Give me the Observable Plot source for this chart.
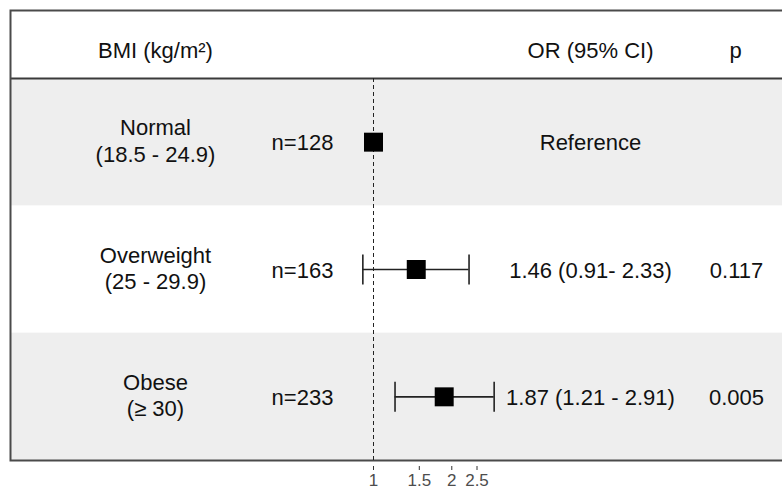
<!DOCTYPE html>
<html>
<head>
<meta charset="utf-8">
<script src="https://cdn.jsdelivr.net/npm/d3@7"></script>
<script src="https://cdn.jsdelivr.net/npm/@observablehq/plot@0.6"></script>
<style>
  html, body { margin: 0; padding: 0; background: #fff; }
  #chart { width: 782px; height: 490px; }
</style>
</head>
<body>
<div id="chart"></div>
<script>
// ---- data ----
const groupLabels = ["Normal\n(18.5 - 24.9)", "Overweight\n(25 - 29.9)", "Obese\n(≥ 30)"];
const nLabels = ["n=128", "n=163", "n=233"];
const orValues = [1, 1.46, 1.87];
const ciLow = [null, 0.91, 1.21];
const ciHigh = [null, 2.33, 2.91];
const orLabels = ["Reference", "1.46 (0.91- 2.33)", "1.87 (1.21 - 2.91)"];
const pLabels = ["", "0.117", "0.005"];
const headerLabels = ["BMI (kg/m²)", "OR (95% CI)", "p"];
const tickValues = [1, 1.5, 2, 2.5];

const data = groupLabels.map((label, i) => ({
  row: i + 1,
  label,
  n: nLabels[i],
  or: orValues[i],
  lo: ciLow[i],
  hi: ciHigh[i],
  orText: orLabels[i],
  p: pLabels[i]
}));
const ciData = data.filter(d => d.lo != null);
const shaded = data.filter(d => d.row % 2 === 1);
const nRows = data.length;

const capSymbol = {
  draw(context, size) {
    const h = Math.sqrt(size / Math.PI);
    context.moveTo(0, -h);
    context.lineTo(0, h);
  }
};

const textCommon = {textAnchor: "middle", fill: "#111", fontSize: 22};

const chart = Plot.plot({
  width: 782,
  height: 490,
  marginTop: 10,
  marginBottom: 30,
  marginLeft: 10,
  marginRight: 0,
  style: {fontFamily: "'Liberation Sans', Arial, Helvetica, sans-serif", background: "#fff"},
  x: {type: "log", domain: [1, 2.5], range: [373, 476.5]},
  y: {domain: [0.5, nRows + 0.5], range: [78, 460], axis: null},
  marks: [
    // shaded bands
    Plot.rect(shaded, {y1: d => d.row - 0.5, y2: d => d.row + 0.5, fill: "#EEEEEE", insetRight: -5}),
    // header separator
    Plot.ruleY([0.5], {stroke: "#3a3a3a", strokeWidth: 2, insetRight: -5}),
    // outer frame
    Plot.frame({stroke: "#4a4a4a", strokeWidth: 2, insetRight: -5}),
    // reference line
    Plot.ruleX([1], {y1: 0.5, y2: nRows + 0.5, stroke: "#222", strokeWidth: 1, strokeDasharray: "4,3"}),
    // confidence intervals
    Plot.ruleY(ciData, {y: "row", x1: "lo", x2: "hi", stroke: "#222", strokeWidth: 1.6}),
    Plot.dot(ciData, {x: "lo", y: "row", symbol: capSymbol, r: 15, stroke: "#222", strokeWidth: 1.6, fill: "none"}),
    Plot.dot(ciData, {x: "hi", y: "row", symbol: capSymbol, r: 15, stroke: "#222", strokeWidth: 1.6, fill: "none"}),
    // point estimates
    Plot.dot(data, {x: "or", y: "row", symbol: "square", r: 10.7, fill: "#000", stroke: "none"}),
    // header texts
    Plot.text([headerLabels[0]], {text: d => d, frameAnchor: "top-left", dx: 145, dy: 32, ...textCommon}),
    Plot.text([headerLabels[1]], {text: d => d, frameAnchor: "top-left", dx: 580, dy: 32, ...textCommon}),
    Plot.text([headerLabels[2]], {text: d => d, frameAnchor: "top-left", dx: 725, dy: 32, ...textCommon}),
    // row texts
    Plot.text(data, {y: "row", text: "label", frameAnchor: "left", dx: 145, dy: -2, lineHeight: 1.2, ...textCommon}),
    Plot.text(data, {y: "row", text: "n", frameAnchor: "left", dx: 292, dy: 1, ...textCommon}),
    Plot.text(data, {y: "row", text: "orText", frameAnchor: "left", dx: 580, dy: 1, ...textCommon}),
    Plot.text(data, {y: "row", text: "p", frameAnchor: "left", dx: 726, dy: 1, ...textCommon}),
    // axis
    Plot.axisX({ticks: tickValues, tickFormat: d => String(d), tickSize: 4, tickPadding: 3, dy: 6,
      fontSize: 17, color: "#4d4d4d", stroke: "#333", label: null})
  ]
});
document.getElementById("chart").appendChild(chart);
</script>
</body>
</html>
